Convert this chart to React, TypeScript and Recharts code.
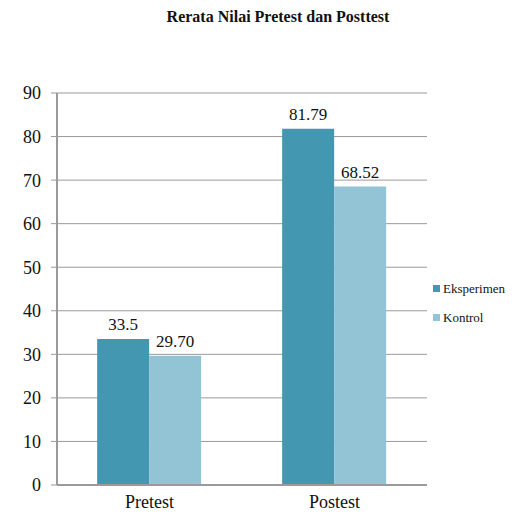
import { BarChart, Bar, XAxis, YAxis, CartesianGrid, Legend } from 'recharts'

const categories = ['Pretest', 'Postest']
const eksperimen = [33.5, 81.79]
const kontrol = [29.7, 68.52]
const eksperimenLabels = ['33.5', '81.79']
const kontrolLabels = ['29.70', '68.52']
const yTicks = [0, 10, 20, 30, 40, 50, 60, 70, 80, 90]

const data = categories.map((name, i) => ({
  name,
  eksperimen: eksperimen[i],
  kontrol: kontrol[i],
}))

const FONT = '"Liberation Serif", "Times New Roman", serif'
const C_EKS = '#4397b0'
const C_KON = '#92c4d6'

const LegendBox = ({ payload }: any) => (
  <div style={{ fontFamily: FONT, fontSize: 13, color: '#111' }}>
    {(payload || []).map((p: any) => (
      <div key={p.value} style={{ display: 'flex', alignItems: 'center', height: 29 }}>
        <span style={{ width: 7, height: 7, background: p.color, marginRight: 3, display: 'inline-block' }} />
        {p.value}
      </div>
    ))}
  </div>
)

const topLabel = (labels: string[]) => (props: any) => {
  const { x, y, width, index } = props
  return (
    <text key={index} x={x + width / 2} y={y - 9} textAnchor="middle" fill="#111"
      fontFamily={FONT} fontSize={17}>
      {labels[index]}
    </text>
  )
}

export default function App() {
  return (
    <div style={{ position: 'absolute', left: 0, top: 0, width: 520, height: 516, background: '#fff' }}>
      <div style={{
        position: 'absolute', top: 8, left: 0, width: 556, textAlign: 'center',
        fontFamily: FONT, fontWeight: 'bold', fontSize: 16, color: '#111'
      }}>
        Rerata Nilai Pretest dan Posttest
      </div>
      <BarChart width={520} height={516} data={data}
        margin={{ top: 93, right: 3, left: 0, bottom: 0 }}
        barCategoryGap="21.7%" barGap={0} style={{ fontFamily: FONT }}>
        <CartesianGrid vertical={false} stroke="#9a9a9a" strokeWidth={1} />
        <XAxis dataKey="name" height={31} axisLine={{ stroke: '#9a9a9a', strokeWidth: 2 }} tickLine={false}
          tick={{ fill: '#111', fontSize: 18, fontFamily: FONT }} tickMargin={4} />
        <YAxis width={57} domain={[0, 90]} ticks={yTicks} interval={0}
          axisLine={{ stroke: '#9a9a9a', strokeWidth: 2 }} tickLine={{ stroke: '#9a9a9a' }} tickSize={6} tickMargin={10}
          tick={{ fill: '#111', fontSize: 18, fontFamily: FONT }} />
        <Legend layout="vertical" align="right" verticalAlign="top" content={<LegendBox />}
          wrapperStyle={{ left: 433, top: 274, width: 90 }} />
        <Bar dataKey="eksperimen" name="Eksperimen" fill={C_EKS} isAnimationActive={false}
          label={topLabel(eksperimenLabels)} />
        <Bar dataKey="kontrol" name="Kontrol" fill={C_KON} isAnimationActive={false}
          label={topLabel(kontrolLabels)} />
      </BarChart>
    </div>
  )
}
